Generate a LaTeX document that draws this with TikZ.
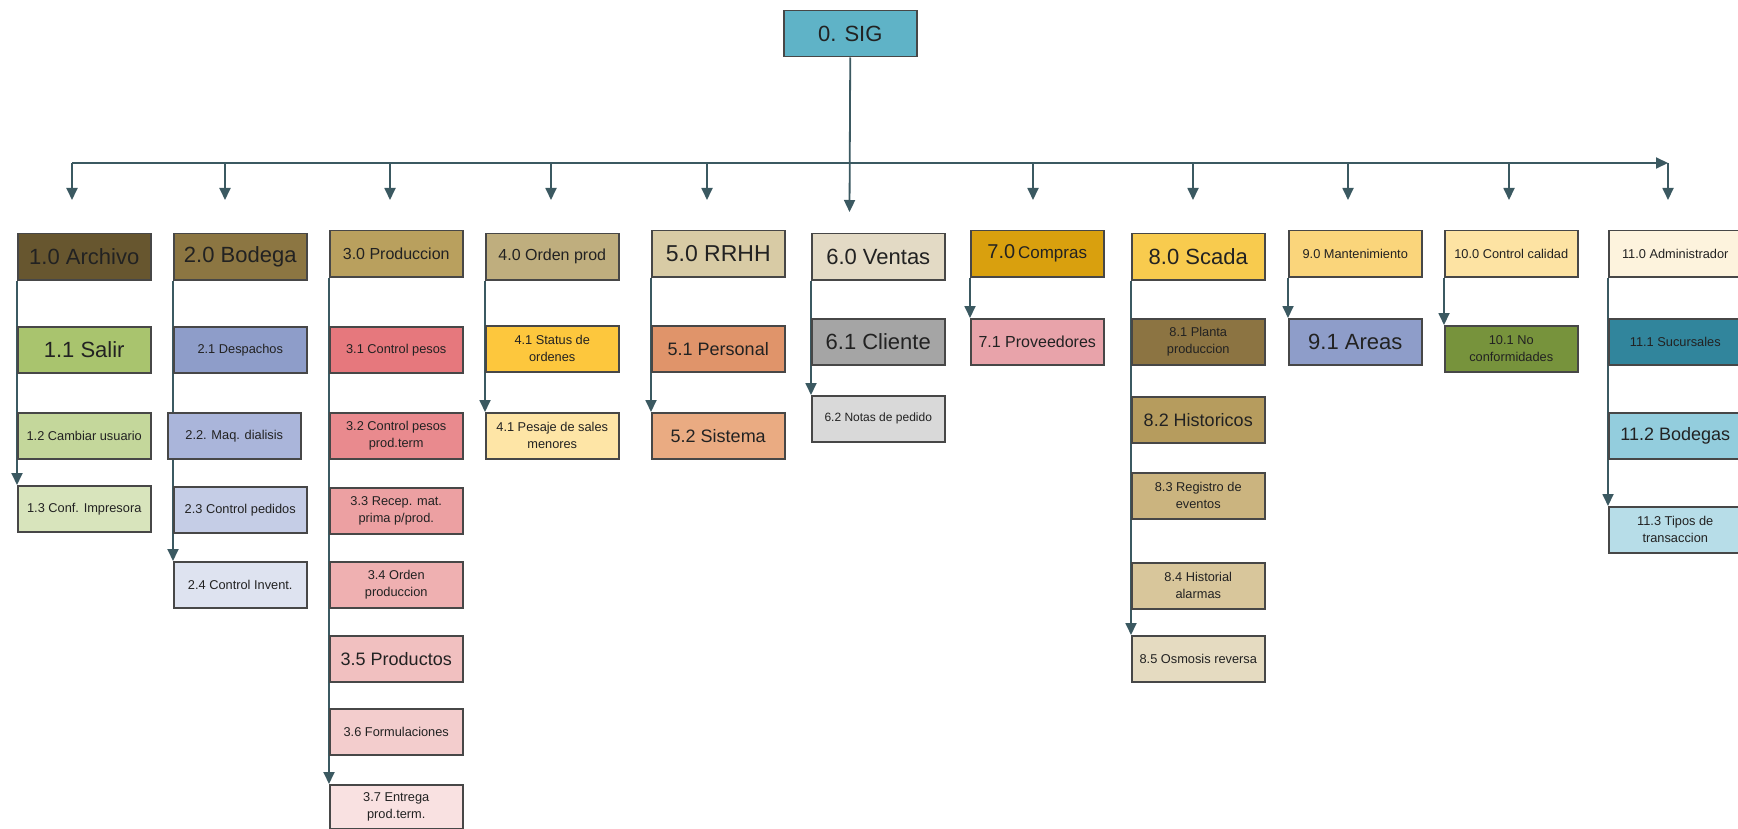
\documentclass[tikz,border=0pt]{standalone}
\usepackage{fontspec}
\setmainfont{Liberation Sans}
\usetikzlibrary{arrows.meta,backgrounds}
\definecolor{lnc}{HTML}{3B5961}
\definecolor{boxc}{HTML}{474747}
\definecolor{txtc}{HTML}{222222}
\definecolor{c00}{HTML}{5FB3C7}
\definecolor{c10}{HTML}{67562F}
\definecolor{c11}{HTML}{A9C46E}
\definecolor{c12}{HTML}{C4D79B}
\definecolor{c13}{HTML}{D8E4BC}
\definecolor{c20}{HTML}{8C7642}
\definecolor{c21}{HTML}{8E9DC9}
\definecolor{c22}{HTML}{AAB5DA}
\definecolor{c23}{HTML}{C5CDE6}
\definecolor{c24}{HTML}{DEE3F0}
\definecolor{c30}{HTML}{B9A05E}
\definecolor{c31}{HTML}{E6787D}
\definecolor{c32}{HTML}{E98A8E}
\definecolor{c33}{HTML}{ECA0A2}
\definecolor{c34}{HTML}{EFB0B1}
\definecolor{c35}{HTML}{F1C0C0}
\definecolor{c36}{HTML}{F3CDCD}
\definecolor{c37}{HTML}{F9E1E1}
\definecolor{c40}{HTML}{BFAE7E}
\definecolor{c41}{HTML}{FDC73D}
\definecolor{c42}{HTML}{FEE5A6}
\definecolor{c50}{HTML}{D8CBA5}
\definecolor{c51}{HTML}{E0946A}
\definecolor{c52}{HTML}{EAAB82}
\definecolor{c60}{HTML}{E3DAC5}
\definecolor{c61}{HTML}{A5A5A5}
\definecolor{c62}{HTML}{D9D9D9}
\definecolor{c70}{HTML}{D9A00E}
\definecolor{c71}{HTML}{E8A3AA}
\definecolor{c80}{HTML}{F8CB4E}
\definecolor{c81}{HTML}{8C7442}
\definecolor{c82}{HTML}{B69C5E}
\definecolor{c83}{HTML}{CBB47F}
\definecolor{c84}{HTML}{D8C69B}
\definecolor{c85}{HTML}{E5DBC1}
\definecolor{c90}{HTML}{FAD57B}
\definecolor{c91}{HTML}{8E9DC9}
\definecolor{c100}{HTML}{FDE3A3}
\definecolor{c101}{HTML}{77933C}
\definecolor{c110}{HTML}{FDF3DD}
\definecolor{c111}{HTML}{31859C}
\definecolor{c112}{HTML}{93CDDD}
\definecolor{c113}{HTML}{B7DDE8}
\begin{document}
\begin{tikzpicture}[x=1pt,y=-1pt,
  box/.style={draw=boxc,line width=1.5pt,minimum width=133pt,minimum height=46pt,inner sep=0pt,anchor=north west,align=center,text=txtc},
  tS/.style={font=\fontsize{12.8}{17}\selectfont},
  tM/.style={font=\fontsize{16}{19}\selectfont},
  tL/.style={font=\fontsize{18}{21}\selectfont},
  tXL/.style={font=\fontsize{22}{25}\selectfont},
  conn/.style={draw=lnc,line width=1.8pt,-{Triangle[width=11pt,length=12pt]}}]
\clip (0,0) rectangle (1738,829);
\useasboundingbox (0,0) rectangle (1738,829);
% root
\node[box,tXL,fill=c00] (sig) at (783,10) {0. SIG};
% column 1
\node[box,tXL,fill=c10] (n10) at (17,233) {1.0 Archivo};
\node[box,tXL,fill=c11] (n11) at (17,326) {1.1 Salir};
\node[box,tS,fill=c12] (n12) at (17,412) {1.2 Cambiar usuario};
\node[box,tS,fill=c13] (n13) at (17,485) {1.3 Conf. Impresora};
% column 2
\node[box,tXL,fill=c20] (n20) at (173,233) {2.0 Bodega};
\node[box,tS,fill=c21] (n21) at (173,326) {2.1 Despachos};
\node[box,tS,fill=c22] (n22) at (167,412) {2.2. Maq. dialisis};
\node[box,tS,fill=c23] (n23) at (173,486) {2.3 Control pedidos};
\node[box,tS,fill=c24] (n24) at (173,561) {2.4 Control Invent.};
% column 3
\node[box,tM,fill=c30] (n30) at (329,230) {3.0 Produccion};
\node[box,tS,fill=c31] (n31) at (329,326) {3.1 Control pesos};
\node[box,tS,fill=c32] (n32) at (329,412) {3.2 Control pesos\\prod.term};
\node[box,tS,fill=c33] (n33) at (329,487) {3.3 Recep. mat.\\prima p/prod.};
\node[box,tS,fill=c34] (n34) at (329,561) {3.4 Orden\\produccion};
\node[box,tL,fill=c35] (n35) at (329,635) {3.5 Productos};
\node[box,tS,fill=c36] (n36) at (329,708) {3.6 Formulaciones};
\node[box,tS,fill=c37,minimum height=44pt] (n37) at (329,784) {3.7 Entrega\\prod.term.};
% column 4
\node[box,tM,fill=c40] (n40) at (485,233) {4.0 Orden prod};
\node[box,tS,fill=c41] (n41) at (485,325) {4.1 Status de\\ordenes};
\node[box,tS,fill=c42] (n42) at (485,412) {4.1 Pesaje de sales\\menores};
% column 5
\node[box,font=\fontsize{23}{26}\selectfont,fill=c50] (n50) at (651,230) {5.0 RRHH};
\node[box,tL,fill=c51] (n51) at (651,325) {5.1 Personal};
\node[box,tL,fill=c52] (n52) at (651,412) {5.2 Sistema};
% column 6
\node[box,tXL,fill=c60] (n60) at (811,233) {6.0 Ventas};
\node[box,tXL,fill=c61] (n61) at (811,318) {6.1 Cliente};
\node[box,font=\fontsize{12}{15}\selectfont,fill=c62] (n62) at (811,395) {6.2 Notas de pedido};
% column 7
\node[box,fill=c70] (n70) at (970,230) {{\fontsize{20}{24}\selectfont 7.0} {\fontsize{17}{20}\selectfont Compras}};
\node[box,tM,fill=c71] (n71) at (970,318) {7.1 Proveedores};
% column 8
\node[box,tXL,fill=c80] (n80) at (1131,233) {8.0 Scada};
\node[box,tS,fill=c81] (n81) at (1131,318) {8.1 Planta\\produccion};
\node[box,tL,fill=c82] (n82) at (1131,396) {8.2 Historicos};
\node[box,tS,fill=c83] (n83) at (1131,472) {8.3 Registro de\\eventos};
\node[box,tS,fill=c84] (n84) at (1131,562) {8.4 Historial\\alarmas};
\node[box,tS,fill=c85] (n85) at (1131,635) {8.5 Osmosis reversa};
% column 9
\node[box,tS,fill=c90] (n90) at (1288,230) {9.0 Mantenimiento};
\node[box,tXL,fill=c91] (n91) at (1288,318) {9.1 Areas};
% column 10
\node[box,tS,fill=c100] (n100) at (1444,230) {10.0 Control calidad};
\node[box,tS,fill=c101] (n101) at (1444,325) {10.1 No\\conformidades};
% column 11
\node[box,tS,fill=c110] (n110) at (1608,230) {11.0 Administrador};
\node[box,tS,fill=c111] (n111) at (1608,318) {11.1 Sucursales};
\node[box,tL,fill=c112] (n112) at (1608,412) {11.2 Bodegas};
\node[box,tS,fill=c113] (n113) at (1608,506) {11.3 Tipos de\\transaccion};
% bus coordinates
\coordinate (busL) at (72,163);
\coordinate (busR) at (1668,163);
\coordinate (sigtip) at (849.5,212);
\foreach \x [count=\i] in {72,225,390,551,707,1033,1193,1348,1509,1668}{
  \coordinate (bus\i) at (\x,163);
  \coordinate (tip\i) at (\x,200);
}
\begin{scope}[on background layer]
  \fill[white] (0,0) rectangle (1738,829);
  \draw[conn] (busL) -- (busR);
  \foreach \i in {1,...,10}{ \draw[conn] (bus\i) -- (tip\i); }
  \draw[conn] (sig.south) -- (sigtip);
  \draw[conn] (n10.south west) -- (n13.north west);
  \draw[conn] (n20.south west) -- (n24.north west);
  \draw[conn] (n30.south west) -- (n37.north west);
  \draw[conn] (n40.south west) -- (n42.north west);
  \draw[conn] (n50.south west) -- (n52.north west);
  \draw[conn] (n60.south west) -- (n62.north west);
  \draw[conn] (n70.south west) -- (n71.north west);
  \draw[conn] (n80.south west) -- (n85.north west);
  \draw[conn] (n90.south west) -- (n91.north west);
  \draw[conn] (n100.south west) -- (n101.north west);
  \draw[conn] (n110.south west) -- (n113.north west);
\end{scope}
\end{tikzpicture}
\end{document}
